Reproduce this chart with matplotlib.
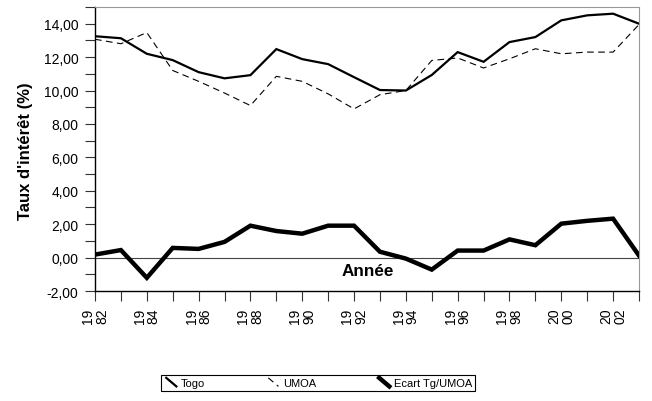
import matplotlib
matplotlib.use("Agg")
import matplotlib.pyplot as plt
from matplotlib.lines import Line2D
from matplotlib.legend_handler import HandlerLine2D
from matplotlib.ticker import FuncFormatter, MultipleLocator

plt.rcParams['font.family'] = ['Liberation Sans', 'DejaVu Sans']

years = list(range(1982, 2004))
togo = [13.25, 13.13, 12.20, 11.82, 11.10, 10.73, 10.92, 12.48, 11.88, 11.58, 10.80,
        10.03, 10.00, 10.93, 12.30, 11.72, 12.90, 13.20, 14.20, 14.50, 14.60, 14.00]
umoa = [13.07, 12.80, 13.47, 11.20, 10.55, 9.85, 9.10, 10.85, 10.55, 9.80, 8.90,
        9.75, 10.00, 11.80, 11.95, 11.35, 11.90, 12.50, 12.20, 12.30, 12.30, 13.95]
ecart = [0.18, 0.45, -1.21, 0.58, 0.52, 0.94, 1.91, 1.59, 1.43, 1.91, 1.91,
         0.35, -0.06, -0.72, 0.42, 0.42, 1.09, 0.74, 2.03, 2.20, 2.33, 0.12]
labeled_years = years[::2][:11]
tick_labels = [f"{str(y)[:2]}\n{str(y)[2:]}" for y in labeled_years]


class DiagonalHandler(HandlerLine2D):
    """Legend key drawn as a short diagonal stroke."""
    def create_artists(self, legend, orig_handle, xdescent, ydescent,
                       width, height, fontsize, trans):
        line = Line2D([0.15 * width, 0.85 * width], [height * 1.05, -0.05 * height])
        self.update_prop(line, orig_handle, legend)
        line.set_transform(trans)
        return [line]


fig = plt.figure(figsize=(6.52, 4.02), dpi=100)
ax = fig.add_axes([95 / 652, 1 - 292 / 402, 544 / 652, 284 / 402])

ax.axhline(0, color='#444444', lw=0.8, zorder=1)
l1, = ax.plot(years, togo, color='black', lw=1.6, solid_joinstyle='miter', label='Togo', zorder=3)
l2, = ax.plot(years, umoa, color='black', lw=0.8, dashes=(6, 4), label='UMOA', zorder=2)
l3, = ax.plot(years, ecart, color='black', lw=3.2, solid_joinstyle='miter',
              label='Ecart Tg/UMOA', zorder=4)

ax.set_xlim(1982, 2003)
ax.set_ylim(-2, 15)

ax.yaxis.set_minor_locator(MultipleLocator(1))
ax.set_yticks([-2, 0, 2, 4, 6, 8, 10, 12, 14])
ax.yaxis.set_major_formatter(FuncFormatter(lambda v, p: f"{v:.2f}".replace('.', ',')))
ax.tick_params(axis='y', which='both', direction='out', length=7, width=0.8,
               color='#333333', labelsize=10, pad=5)

ax.set_xticks(years, minor=True)
ax.set_xticks(labeled_years)
ax.set_xticklabels(tick_labels, rotation=90, fontsize=10, linespacing=1.0)
ax.tick_params(axis='x', which='both', direction='out', length=7, width=0.8,
               color='#333333', pad=5)

for side in ('left', 'bottom'):
    ax.spines[side].set_color('black')
    ax.spines[side].set_linewidth(1.0)
for side in ('top', 'right'):
    ax.spines[side].set_color('#999999')
    ax.spines[side].set_linewidth(0.8)

ax.set_ylabel("Taux d'intérêt (%)", fontsize=12, fontweight='bold')
ax.yaxis.set_label_coords(-0.114, 0.495)
ax.text(0.502, 0.056, 'Année', transform=ax.transAxes, ha='center', va='baseline',
        fontsize=12.3, fontweight='bold')

leg = fig.legend(handles=[l1, l2, l3], ncol=3, loc='center',
                 bbox_to_anchor=(318 / 652, 1 - 384 / 402), fontsize=8,
                 handler_map={Line2D: DiagonalHandler()},
                 handlelength=1.3, handletextpad=0.2, columnspacing=5.5,
                 fancybox=False, framealpha=1, edgecolor='black',
                 borderpad=0.3, borderaxespad=0)
leg.get_frame().set_linewidth(0.8)

fig.savefig('out.png', dpi=100)
